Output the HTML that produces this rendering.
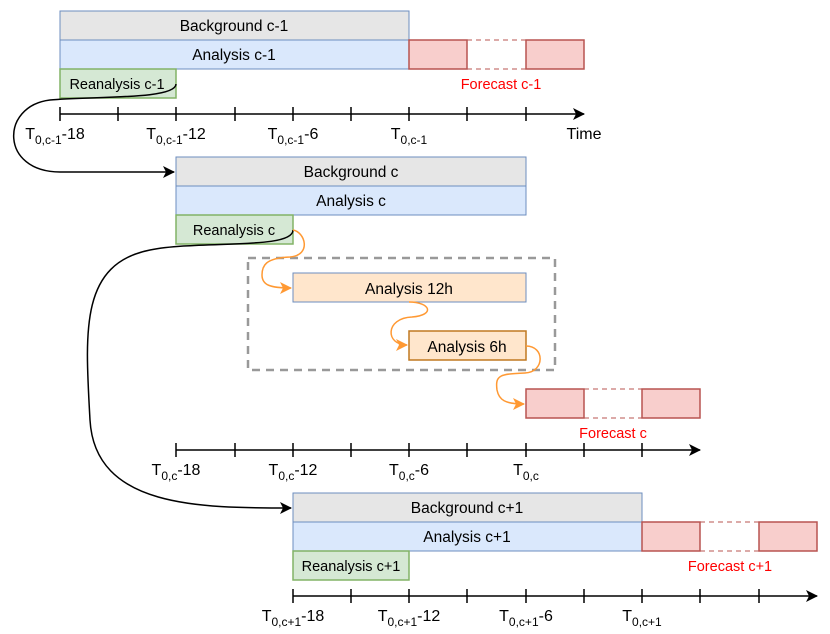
<!DOCTYPE html><html><head><meta charset="utf-8"><style>body{margin:0;background:#fff}svg{display:block}text{font-family:"Liberation Sans",Arial,sans-serif}</style></head><body>
<svg width="830" height="634" viewBox="0 0 830 634" xmlns="http://www.w3.org/2000/svg">
<defs>
<marker id="ab" markerWidth="12" markerHeight="12" refX="11" refY="6" orient="auto" markerUnits="userSpaceOnUse"><path d="M0,0 L12,6 L0,12 L3,6z" fill="#000"/></marker>
<marker id="ao" markerWidth="12" markerHeight="12" refX="11" refY="6" orient="auto" markerUnits="userSpaceOnUse"><path d="M0,0 L12,6 L0,12 L3,6z" fill="#FF9933"/></marker>
</defs>
<g font-size="15.5" text-anchor="middle">
<rect x="60" y="11" width="349" height="29" fill="#E6E6E6" stroke="#6C8EBF"/><text x="234" y="31">Background c-1</text>
<rect x="60" y="40" width="349" height="29" fill="#DAE8FC" stroke="#6C8EBF"/><text x="234" y="60">Analysis c-1</text>
<rect x="60" y="69" width="116" height="29" fill="#D5E8D4" stroke="#82B366" stroke-width="1.5"/><text x="117" y="89" font-size="14.5">Reanalysis c-1</text>
<rect x="409" y="40" width="58" height="29" fill="#F8CECC" stroke="#B85450" stroke-width="1.5"/><rect x="526" y="40" width="58" height="29" fill="#F8CECC" stroke="#B85450" stroke-width="1.5"/>
<path d="M467,40H526M467,69H526" stroke="#B85450" stroke-dasharray="5,4"/>
<text x="501" y="89" fill="#FF0000" font-size="14.5">Forecast c-1</text>
<rect x="176" y="157" width="350" height="29" fill="#E6E6E6" stroke="#6C8EBF"/><text x="351" y="177">Background c</text>
<rect x="176" y="186" width="350" height="29" fill="#DAE8FC" stroke="#6C8EBF"/><text x="351" y="206">Analysis c</text>
<rect x="176" y="215" width="117" height="29" fill="#D5E8D4" stroke="#82B366" stroke-width="1.5"/><text x="234" y="235" font-size="14.5">Reanalysis c</text>
<rect x="248" y="258" width="307" height="112" fill="none" stroke="#999" stroke-width="2.5" stroke-dasharray="8,6"/>
<rect x="293" y="273" width="233" height="29" fill="#FFE6CC" stroke="#6C8EBF"/><text x="409" y="294">Analysis 12h</text>
<rect x="409" y="331" width="117" height="29" fill="#FFE6CC" stroke="#C07820" stroke-width="1.5"/><text x="467" y="352">Analysis 6h</text>
<rect x="526" y="389" width="58" height="29" fill="#F8CECC" stroke="#B85450" stroke-width="1.5"/><rect x="642" y="389" width="58" height="29" fill="#F8CECC" stroke="#B85450" stroke-width="1.5"/>
<path d="M584,389H642M584,418H642" stroke="#B85450" stroke-dasharray="5,4"/>
<text x="613" y="438" fill="#FF0000" font-size="14.5">Forecast c</text>
<rect x="293" y="493" width="349" height="29" fill="#E6E6E6" stroke="#6C8EBF"/><text x="467" y="513">Background c+1</text>
<rect x="293" y="522" width="349" height="29" fill="#DAE8FC" stroke="#6C8EBF"/><text x="467" y="542">Analysis c+1</text>
<rect x="293" y="551" width="116" height="29" fill="#D5E8D4" stroke="#82B366" stroke-width="1.5"/><text x="351" y="571" font-size="14.5">Reanalysis c+1</text>
<rect x="642" y="522" width="58" height="29" fill="#F8CECC" stroke="#B85450" stroke-width="1.5"/><rect x="759" y="522" width="58" height="29" fill="#F8CECC" stroke="#B85450" stroke-width="1.5"/>
<path d="M700,522H759M700,551H759" stroke="#B85450" stroke-dasharray="5,4"/>
<text x="730" y="571" fill="#FF0000" font-size="14.5">Forecast c+1</text>
</g>
<g stroke="#000" stroke-width="1.5" fill="none">
<path d="M60,114H584" marker-end="url(#ab)"/>
<path d="M60,107v14M118,107v14M176,107v14M235,107v14M293,107v14M351,107v14M409,107v14M467,107v14M526,107v14"/>
<path d="M176,450H700" marker-end="url(#ab)"/>
<path d="M176,443v14M235,443v14M293,443v14M351,443v14M409,443v14M467,443v14M526,443v14M584,443v14M642,443v14"/>
<path d="M293,596H817" marker-end="url(#ab)"/>
<path d="M293,589v14M351,589v14M409,589v14M467,589v14M526,589v14M584,589v14M642,589v14M700,589v14M759,589v14"/>
</g>
<g font-size="16" text-anchor="middle">
<text x="55" y="139">T<tspan font-size="12" dy="5">0,c-1</tspan><tspan dy="-5">-18</tspan></text>
<text x="176" y="139">T<tspan font-size="12" dy="5">0,c-1</tspan><tspan dy="-5">-12</tspan></text>
<text x="293" y="139">T<tspan font-size="12" dy="5">0,c-1</tspan><tspan dy="-5">-6</tspan></text>
<text x="409" y="139">T<tspan font-size="12" dy="5">0,c-1</tspan></text>
<text x="584" y="139">Time</text>
<text x="176" y="475">T<tspan font-size="12" dy="5">0,c</tspan><tspan dy="-5">-18</tspan></text>
<text x="293" y="475">T<tspan font-size="12" dy="5">0,c</tspan><tspan dy="-5">-12</tspan></text>
<text x="409" y="475">T<tspan font-size="12" dy="5">0,c</tspan><tspan dy="-5">-6</tspan></text>
<text x="526" y="475">T<tspan font-size="12" dy="5">0,c</tspan></text>
<text x="293" y="621">T<tspan font-size="12" dy="5">0,c+1</tspan><tspan dy="-5">-18</tspan></text>
<text x="409" y="621">T<tspan font-size="12" dy="5">0,c+1</tspan><tspan dy="-5">-12</tspan></text>
<text x="526" y="621">T<tspan font-size="12" dy="5">0,c+1</tspan><tspan dy="-5">-6</tspan></text>
<text x="642" y="621">T<tspan font-size="12" dy="5">0,c+1</tspan></text>
</g>
<g fill="none" stroke-width="1.5">
<path d="M176,84 C176,100 90,96 50,100 C0,106 0,172 60,172 L174,172" stroke="#000" marker-end="url(#ab)"/>
<path d="M293,230 C293,250 200,240 150,250 C80,264 85,330 90,420 C95,508 200,508 291,508" stroke="#000" marker-end="url(#ab)"/>
<path d="M293,230 C305,232 312,255 290,257 C265,258 262,266 262,275 C262,285 270,288 291,288" stroke="#FF9933" marker-end="url(#ao)"/>
<path d="M409,302 C430,302 436,315 412,317 C385,318 385,345 407,345" stroke="#FF9933" marker-end="url(#ao)"/>
<path d="M526,346 C545,346 545,372 525,373 C500,374 495,375 497,390 C499,400 505,404 524,404" stroke="#FF9933" marker-end="url(#ao)"/>
</g>
</svg></body></html>
